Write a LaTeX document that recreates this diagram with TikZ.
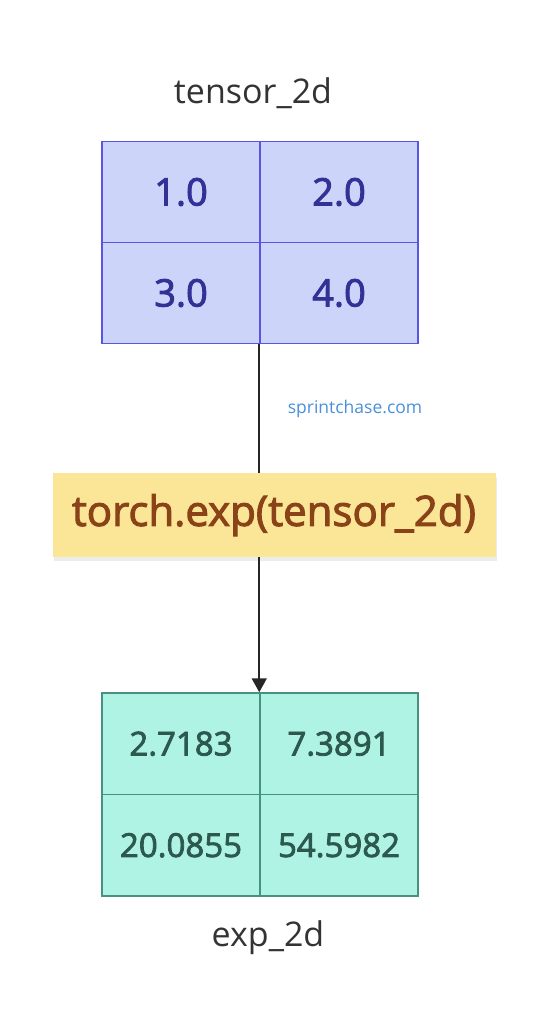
\documentclass[tikz,border=0pt]{standalone}
\usepackage{fontspec}
\setmainfont{Open Sans}
\newfontfamily\semibold{Open Sans}[FakeBold=2.4]
\usetikzlibrary{arrows.meta,shadows}

\definecolor{inFill}{RGB}{204,212,250}
\definecolor{inLine}{RGB}{88,84,228}
\definecolor{inText}{RGB}{52,48,150}
\definecolor{outFill}{RGB}{175,243,228}
\definecolor{outLine}{RGB}{72,145,128}
\definecolor{outText}{RGB}{44,88,78}
\definecolor{opFill}{RGB}{250,230,150}
\definecolor{opText}{RGB}{138,66,24}
\definecolor{wmText}{RGB}{74,144,217}
\definecolor{lblText}{RGB}{51,51,51}

\begin{document}
\begin{tikzpicture}[x=1pt,y=-1pt,>={Triangle[width=15pt,length=14pt]}]
\tikzstyle{every node}=[font=\fontsize{34}{38}\selectfont]
\tikzstyle{incell}=[draw=inLine, line width=1.5pt, fill=inFill, text=inText, minimum width=158pt, minimum height=101pt, inner sep=0pt, font=\semibold\fontsize{38}{42}\selectfont]
\tikzstyle{outcell}=[draw=outLine, line width=1.5pt, fill=outFill, text=outText, minimum width=158pt, minimum height=101.5pt, inner sep=0pt, font=\semibold\fontsize{33}{37}\selectfont]
\useasboundingbox (0,0) rectangle (548,1024);

% Input tensor
\node[text=lblText] (inlbl) at (253,93) {tensor\_2d};
\foreach \r/\c/\v in {1/1/1.0, 1/2/2.0, 2/1/3.0, 2/2/4.0}
  \node[incell] (in\r\c) at (23+158*\c, 91+101*\r) {\v};

% Watermark
\node[text=wmText, font=\fontsize{17.5}{20}\selectfont] (wm) at (355,409) {sprintchase.com};

% Operation
\node[fill=opFill, text=opText, minimum width=443pt, minimum height=84pt, inner sep=0pt,
      drop shadow={shadow xshift=1pt, shadow yshift=-4pt, opacity=0.15},
      font=\semibold\fontsize{42}{46}\selectfont] (op) at (274,515) {torch.exp(tensor\_2d)};

% Output tensor
\foreach \r/\c/\v in {1/1/2.7183, 1/2/7.3891, 2/1/20.0855, 2/2/54.5982}
  \node[outcell] (out\r\c) at (23+158*\c, 642.25+101.5*\r) {\v};
\node[text=lblText] (outlbl) at (268,938) {exp\_2d};

% Connectors
\draw[line width=1.8pt, color=black!85] (in22.south west) -- (in22.south west |- op.north);
\draw[->, line width=1.8pt, color=black!85] (op.south -| out12.north west) -- (out12.north west);
\end{tikzpicture}
\end{document}
